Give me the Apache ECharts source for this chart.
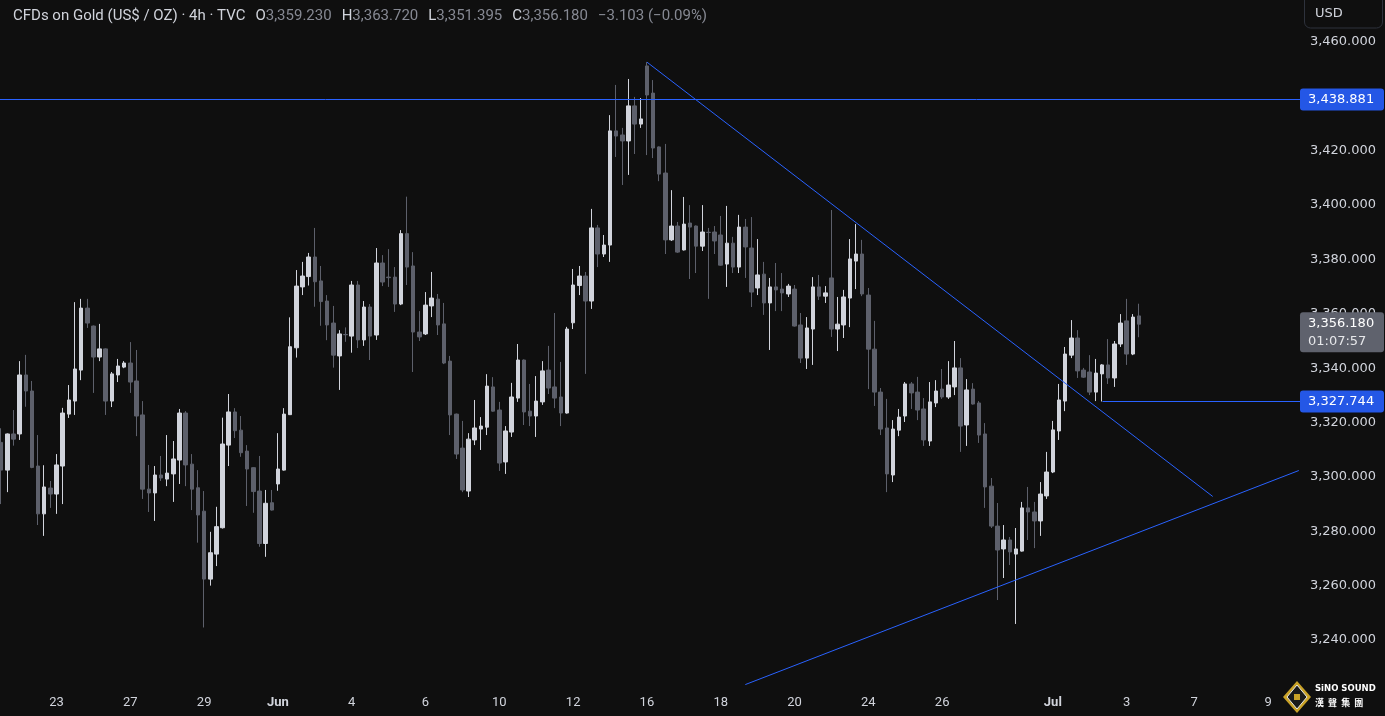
<!DOCTYPE html>
<html>
<head>
<meta charset="utf-8">
<script src="https://cdn.jsdelivr.net/npm/echarts@6/dist/echarts.min.js"></script>
<style>
html,body{margin:0;padding:0;background:#0f0f0f;}
#chart{width:1385px;height:716px;}
</style>
</head>
<body>
<div id="chart"></div>
<script>
// ---------- DATA ----------
const opens = [3312.7,3302.5,3315.8,3315.8,3337.5,3331.6,3304.0,3286.4,3295.9,3293.7,3304.0,3323.1,3327.9,3339.3,3362.1,3355.5,3344.1,3347.1,3327.9,3337.5,
3340.4,3341.9,3335.3,3322.8,3295.5,3294.1,3300.7,3299.2,3301.1,3306.2,3323.5,3304.7,3296.0,3287.4,3262.4,3271.6,3281.3,3311.7,3323.9,3317.2,
3309.5,3303.4,3294.8,3275.5,3290.5,3297.4,3302.5,3322.9,3347.5,3369.9,3373.7,3380.9,3372.1,3364.7,3356.6,3344.5,3352.4,3351.8,3370.6,3350.4,
3362.5,3352.2,3378.7,3373.5,3373.5,3363.6,3389.5,3377.6,3353.3,3352.6,3362.9,3365.4,3356.3,3342.6,3323.1,3310.6,3294.8,3313.6,3317.6,3318.3,
3333.1,3324.6,3305.5,3316.5,3329.0,3343.0,3324.2,3322.4,3327.6,3339.3,3333.1,3329.4,3323.5,3356.7,3370.4,3373.9,3364.7,3391.6,3382.0,3385.3,
3427.3,3425.8,3423.6,3436.5,3429.8,3451.2,3441.2,3421.4,3411.8,3387.2,3392.3,3383.5,3393.4,3392.3,3384.9,3390.0,3390.1,3389.0,3378.3,3386.0,
3377.2,3391.9,3384.2,3369.5,3374.6,3364.0,3369.9,3369.1,3367.3,3369.1,3355.9,3343.7,3354.4,3369.9,3366.5,3373.2,3354.4,3355.9,3365.8,3379.4,
3382.0,3366.9,3347.0,3331.2,3318.0,3300.7,3317.2,3322.4,3334.2,3331.2,3325.0,3313.2,3327.2,3332.3,3329.4,3333.1,3340.1,3319.1,3332.3,3327.2,
3315.8,3296.6,3281.9,3273.5,3276.8,3271.6,3272.7,3288.6,3287.1,3283.8,3293.0,3301.8,3316.9,3327.9,3344.8,3351.1,3339.3,3338.6,3331.2,3337.9,
3341.2,3336.4,3348.9,3357.4,3345.2,3359.23];
const highs = [3317.9,3316.0,3324.6,3342.6,3344.9,3335.3,3315.4,3304.3,3298.5,3308.4,3325.4,3333.8,3364.3,3365.5,3365.5,3355.7,3356.3,3347.3,3338.6,3343.4,
3342.6,3349.6,3346.7,3327.9,3304.4,3304.0,3307.7,3315.4,3313.2,3325.0,3324.2,3308.4,3302.5,3294.8,3279.8,3289.0,3321.8,3330.5,3325.3,3322.4,
3311.7,3303.6,3307.7,3295.2,3295.2,3316.1,3325.3,3358.7,3376.1,3379.1,3382.4,3391.6,3377.6,3366.9,3362.9,3354.0,3355.0,3372.1,3372.1,3364.7,
3363.6,3384.2,3381.6,3383.8,3377.2,3390.8,3403.1,3382.7,3361.0,3368.0,3375.4,3367.3,3364.0,3344.5,3323.3,3320.6,3316.1,3328.3,3322.0,3337.8,
3336.7,3327.6,3318.7,3334.6,3348.9,3343.2,3334.2,3337.1,3342.6,3348.2,3360.3,3342.3,3355.2,3376.5,3377.6,3375.4,3398.6,3392.7,3389.0,3433.1,
3444.2,3428.4,3446.4,3439.8,3439.4,3452.6,3446.0,3421.6,3422.5,3405.5,3393.8,3403.0,3400.0,3392.5,3400.0,3391.6,3392.3,3396.0,3399.7,3388.3,
3396.4,3394.9,3395.6,3387.5,3379.1,3373.2,3378.7,3375.0,3371.0,3370.6,3360.3,3358.8,3373.5,3374.3,3370.2,3398.2,3366.2,3368.8,3387.5,3393.0,
3387.2,3369.5,3357.4,3332.7,3328.7,3320.9,3325.0,3334.9,3334.9,3336.8,3329.0,3334.9,3335.6,3339.7,3342.6,3350.0,3343.7,3336.0,3334.5,3327.9,
3319.8,3299.6,3290.4,3282.3,3277.9,3281.2,3290.8,3296.3,3290.8,3298.1,3309.2,3320.6,3334.2,3347.8,3357.7,3354.0,3340.1,3344.8,3343.4,3341.5,
3350.7,3350.0,3359.9,3365.5,3359.9,3363.72];
const lows = [3290.0,3294.4,3311.5,3313.6,3325.8,3303.2,3282.3,3278.3,3288.6,3286.4,3290.0,3321.7,3322.8,3335.6,3354.8,3330.9,3342.6,3322.8,3325.7,3334.9,
3340.0,3330.9,3315.0,3291.9,3287.1,3283.8,3298.5,3296.6,3290.8,3297.4,3296.6,3287.8,3275.8,3244.6,3260.0,3267.2,3281.0,3304.0,3314.3,3307.4,
3289.3,3286.8,3274.3,3270.6,3287.6,3294.9,3302.3,3322.8,3343.9,3366.9,3370.4,3362.6,3355.6,3350.3,3340.2,3332.0,3349.7,3345.7,3347.4,3348.2,
3343.0,3350.4,3370.2,3369.9,3360.7,3363.2,3370.6,3338.6,3350.0,3352.2,3358.8,3352.2,3341.5,3315.4,3306.6,3294.4,3292.6,3311.7,3309.9,3315.4,
3324.0,3302.2,3301.1,3314.7,3327.6,3319.1,3318.7,3314.7,3326.5,3330.5,3325.3,3318.7,3323.3,3354.4,3366.9,3337.9,3361.8,3377.2,3380.9,3379.1,
3417.7,3407.4,3411.1,3418.8,3428.4,3418.4,3417.3,3408.8,3382.0,3386.8,3382.4,3383.3,3372.8,3375.0,3383.1,3365.5,3382.0,3377.7,3369.9,3375.0,
3375.0,3373.2,3362.5,3366.9,3359.6,3346.7,3361.0,3361.0,3366.2,3355.3,3341.9,3339.7,3341.2,3365.1,3364.0,3351.5,3346.3,3351.1,3355.1,3369.1,
3366.5,3332.3,3326.1,3315.4,3294.4,3298.1,3315.0,3320.2,3325.0,3320.9,3311.4,3311.4,3325.7,3328.7,3328.7,3330.1,3309.2,3311.4,3326.6,3312.5,
3288.6,3281.2,3254.7,3262.8,3267.6,3245.9,3272.5,3276.8,3273.8,3278.3,3291.9,3301.4,3313.6,3324.2,3343.7,3336.4,3336.4,3330.1,3327.9,3327.744,
3334.2,3333.1,3347.8,3341.2,3344.8,3351.395];
const closes = [3302.5,3315.8,3313.9,3337.5,3331.6,3303.5,3286.4,3296.3,3293.7,3304.4,3323.5,3328.3,3339.7,3362.1,3356.6,3344.1,3347.1,3327.9,3337.9,3340.8,
3341.9,3334.9,3322.4,3295.5,3294.1,3300.7,3299.6,3301.4,3306.6,3323.5,3304.4,3295.5,3286.0,3262.4,3272.1,3281.7,3312.1,3323.9,3317.0,3308.9,
3302.9,3294.6,3275.5,3290.3,3287.8,3302.9,3323.1,3347.9,3370.2,3373.9,3380.9,3371.8,3364.5,3355.9,3344.8,3352.6,3352.3,3370.6,3350.4,3362.5,
3351.8,3378.7,3371.7,3373.3,3363.6,3389.5,3377.2,3353.3,3351.5,3363.2,3365.8,3355.9,3341.9,3322.8,3308.4,3295.2,3313.9,3318.0,3318.7,3333.4,
3324.2,3305.1,3316.9,3329.4,3343.0,3323.9,3322.4,3327.9,3339.0,3332.7,3329.0,3323.5,3354.4,3370.6,3373.9,3364.7,3391.6,3382.0,3385.3,3427.3,
3425.4,3423.6,3436.5,3429.8,3431.7,3440.5,3421.0,3411.4,3387.2,3392.3,3382.7,3393.0,3391.9,3384.9,3390.1,3389.9,3386.8,3377.9,3386.0,3377.2,
3391.9,3384.6,3368.0,3374.3,3364.0,3369.9,3368.8,3367.7,3370.2,3355.5,3343.7,3354.8,3369.9,3366.5,3367.7,3354.4,3356.2,3366.2,3380.2,3382.0,
3367.3,3347.0,3331.2,3317.6,3301.1,3317.6,3322.0,3334.2,3330.9,3324.6,3313.6,3327.6,3331.6,3329.4,3333.8,3340.1,3318.7,3332.0,3326.8,3315.4,
3296.3,3281.9,3273.1,3276.8,3272.4,3273.5,3288.6,3287.1,3283.8,3293.7,3301.8,3317.3,3328.3,3345.2,3351.1,3339.0,3336.7,3331.2,3338.2,3341.2,
3336.4,3348.9,3356.6,3345.2,3358.8,3356.18];

const TOTAL_SLOTS = 212;               // candles + empty future slots
const dateLabelIndex = [9,21,33,45,57,69,81,93,105,117,129,141,153,171,183,194,206];
const dateLabelText  = ['23','27','29','Jun','4','6','10','12','16','18','20','24','26','Jul','3','7','9'];
const monthLabels = ['Jun','Jul'];
const yTicks = {min:3220, max:3480, step:20};
const hiddenYLabels = [3220, 3440, 3480];
const hline = 3438.881;
const supportLevel = 3327.744;
const lastPrice = 3356.180;
const countdown = '01:07:57';
const descLine = [[105, 3452.6],[197, 3292.8]];
const ascLine  = [[121, 3223.6],[211, 3302.35]];
const supportFrom = 179;
const titleMain = 'CFDs on Gold (US$ / OZ) · 4h · TVC';
const ohlcNames = ['O','H','L','C'];
const ohlcValues = ['3,359.230','3,363.720','3,351.395','3,356.180'];
const changeText = '\u22123.103 (\u22120.09%)';

// ---------- BUILD ----------
const categories = [];
for (let i = 0; i < TOTAL_SLOTS; i++) categories.push('c' + i);
const labelMap = {};
dateLabelIndex.forEach((ix, k) => labelMap[ix] = dateLabelText[k]);
const candleData = opens.map((o, i) => [o, closes[i], lows[i], highs[i]]);

const UP = '#d1d4dc', DOWN = '#5d606b', BLUE = '#2962ff', TXT = '#d1d4dc';
function fmt(v){ return v.toLocaleString('en-US',{minimumFractionDigits:3,maximumFractionDigits:3}); }

let titleRich = '{t|' + titleMain + '}';
ohlcNames.forEach((n, k) => { titleRich += '  {l|' + n + '}{v|' + ohlcValues[k] + '}'; });
titleRich += '  {v|' + changeText + '}';

const FONT_T = 'Roboto';
const chart = echarts.init(document.getElementById('chart'), null, {renderer:'canvas'});
chart.setOption({
  backgroundColor: '#0f0f0f',
  animation: false,
  title: {
    left: 8, top: 2,
    text: titleRich,
    textStyle: {
      fontWeight: 'normal',
      rich: {
        t: {color: TXT, fontSize: 15, fontWeight: 'normal', fontFamily: FONT_T},
        l: {color: TXT, fontSize: 15, fontWeight: 'normal', fontFamily: FONT_T},
        v: {color: '#868993', fontSize: 15, fontWeight: 'normal', fontFamily: FONT_T}
      }
    }
  },
  grid: {left: -1.9, right: 83.1, top: -12.36, bottom: 21.64, containLabel: false, outerBoundsMode: 'none'},
  xAxis: {
    type: 'category',
    data: categories,
    boundaryGap: true,
    axisLine: {show: false},
    axisTick: {show: false},
    splitLine: {show: false},
    axisLabel: {
      interval: 0,
      margin: 2,
      color: TXT,
      fontSize: 13,
      fontFamily: 'Roboto',
      hideOverlap: false,
      formatter: (v, i) => {
        const t = labelMap[i];
        if (!t) return '';
        return monthLabels.includes(t) ? '{b|' + t + '}' : t;
      },
      rich: {b: {fontWeight: 'bold', fontSize: 13, fontFamily: 'Roboto', color: TXT}}
    }
  },
  yAxis: {
    type: 'value',
    position: 'right',
    min: yTicks.min, max: yTicks.max, interval: yTicks.step,
    axisLine: {show: false},
    axisTick: {show: false},
    splitLine: {show: false},
    axisLabel: {
      margin: 8,
      color: TXT,
      fontSize: 13,
      fontFamily: 'DejaVu Sans',
      hideOverlap: false,
      formatter: v => (hiddenYLabels.some(h => Math.abs(v - h) < 0.01) ? '' : fmt(v))
    }
  },
  series: [{
    type: 'candlestick',
    data: candleData,
    barWidth: 4,
    itemStyle: {color: UP, color0: DOWN, borderColor: UP, borderColor0: DOWN, borderWidth: 1},
    markLine: {
      silent: true,
      symbol: ['none','none'],
      label: {show: false},
      lineStyle: {color: BLUE, width: 1, type: 'solid'},
      data: [
        [{coord: [categories[descLine[0][0]], descLine[0][1]]}, {coord: [categories[descLine[1][0]], descLine[1][1]]}],
        [{coord: [categories[ascLine[0][0]], ascLine[0][1]]}, {coord: [categories[ascLine[1][0]], ascLine[1][1]]}]
      ]
    }
  }]
});

// ---------- horizontal levels, price tags, decorations (positions from the library scales) ----------
function yPix(v){ return chart.convertToPixel({yAxisIndex: 0}, v); }
function xPix(i){ return chart.convertToPixel({xAxisIndex: 0}, categories[i]); }
const rectG = chart.getModel().getComponent('grid').coordinateSystem.getRect();
const plotRight = rectG.x + rectG.width;
const tagX = 1300, tagW = 84;
function tag(val, color, extra){
  const y = yPix(val);
  const h = extra ? 40 : 22;
  const top = extra ? y - 12 : y - 11;
  const els = [{
    type: 'rect', z: 100,
    shape: {x: tagX, y: top, width: tagW, height: h, r: 3},
    style: {fill: color}
  },{
    type: 'text', z: 101,
    style: {x: tagX + 8, y: extra ? top + 11 : y, text: fmt(val), fill: '#ffffff',
            font: '13px "DejaVu Sans"', textVerticalAlign: 'middle'}
  }];
  if (extra) els.push({
    type: 'text', z: 101,
    style: {x: tagX + 8, y: top + 29, text: extra, fill: '#e6e7ea',
            font: '13px "DejaVu Sans"', textVerticalAlign: 'middle'}
  });
  return els;
}
function hLine(val, x0){
  const y = Math.round(yPix(val)) + 0.5;
  return {type: 'line', z: 50, shape: {x1: x0, y1: y, x2: plotRight, y2: y},
          style: {stroke: BLUE, lineWidth: 1}};
}
const g = [];
g.push(hLine(hline, 0));
g.push(hLine(supportLevel, Math.round(xPix(supportFrom)) + 0.5));
g.push(...tag(hline, '#2457e6'));
g.push(...tag(lastPrice, '#5f626d', countdown));
g.push(...tag(supportLevel, '#2457e6'));
// USD box
g.push({type:'rect', z:100, shape:{x:1304.5, y:-6, width:78, height:34, r:6},
        style:{fill:'#0f0f0f', stroke:'#2e323c', lineWidth:1}});
g.push({type:'text', z:101, style:{x:1315, y:14, text:'USD', fill:TXT, font:'13px "DejaVu Sans"', textVerticalAlign:'middle'}});
// logo
g.push({type:'polygon', z:100, shape:{points:[[1297,681],[1311,697],[1297,713],[1283,697]]},
        style:{fill:'#c9a227'}});
g.push({type:'polygon', z:101, shape:{points:[[1297,685],[1307,697],[1297,709],[1287,697]]},
        style:{fill:'#1a1a1a', stroke:'#e8e8e8', lineWidth:1}});
g.push({type:'rect', z:102, shape:{x:1294, y:694, width:6, height:6}, style:{fill:'#c9a227'}});
g.push({type:'text', z:101, style:{x:1315, y:689, text:'SiNO SOUND', fill:'#ffffff', font:'bold 8.5px "DejaVu Sans"', textVerticalAlign:'middle'}});
g.push({type:'text', z:101, style:{x:1315, y:703, text:'漢  聲  集  團', fill:'#ffffff', font:'bold 9px "Noto Sans CJK TC"', textVerticalAlign:'middle'}});
chart.setOption({graphic: g});
</script>
</body>
</html>
